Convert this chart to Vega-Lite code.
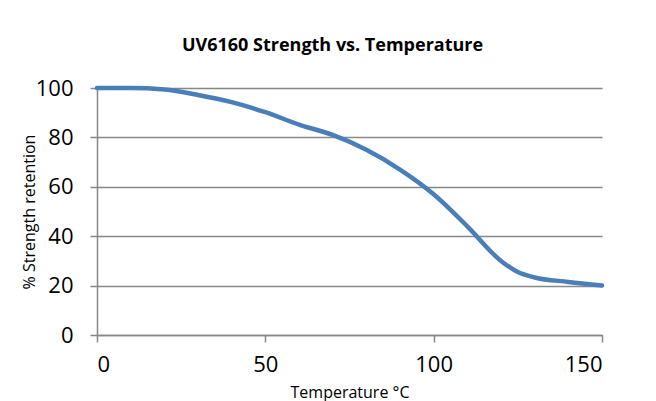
{
  "$schema": "https://vega.github.io/schema/vega-lite/v6.json",
  "autosize": "none",
  "width": 505,
  "height": 247,
  "padding": {"left": 97, "top": 88, "right": 54, "bottom": 66},
  "background": "white",
  "title": {
    "text": "UV6160 Strength vs. Temperature",
    "font": "Open Sans",
    "fontSize": 18,
    "fontWeight": "bold",
    "color": "#000000",
    "anchor": "middle",
    "dx": -17,
    "offset": 22
  },
  "data": {
    "values": [
      {"t": 0, "s": 100},
      {"t": 10, "s": 100},
      {"t": 20, "s": 99.4},
      {"t": 30, "s": 97.2},
      {"t": 40, "s": 94.3},
      {"t": 50, "s": 90.2},
      {"t": 60, "s": 85.2},
      {"t": 70, "s": 81},
      {"t": 80, "s": 75},
      {"t": 90, "s": 67},
      {"t": 100, "s": 57},
      {"t": 110, "s": 44},
      {"t": 120, "s": 30},
      {"t": 125, "s": 25.5},
      {"t": 130, "s": 23.3},
      {"t": 140, "s": 21.5},
      {"t": 150, "s": 20}
    ]
  },
  "mark": {"type": "line", "color": "#4a7ebb", "strokeWidth": 4.5, "interpolate": "monotone", "strokeCap": "round"},
  "encoding": {
    "x": {
      "field": "t",
      "type": "quantitative",
      "scale": {"domain": [0, 150], "nice": false, "zero": true},
      "axis": {
        "title": "Temperature °C",
        "values": [0, 50, 100, 150],
        "grid": false,
        "tickSize": 7,
        "labelPadding": 12,
        "labelFontSize": 22,
        "titleFontSize": 16,
        "titlePadding": 9,
        "titleFontWeight": "normal"
      }
    },
    "y": {
      "field": "s",
      "type": "quantitative",
      "scale": {"domain": [0, 100], "nice": false},
      "axis": {
        "title": "% Strength retention",
        "values": [0, 20, 40, 60, 80, 100],
        "grid": true,
        "tickSize": 7,
        "labelPadding": 17,
        "labelFontSize": 22,
        "titleFontSize": 16,
        "titlePadding": -2,
        "titleFontWeight": "normal"
      }
    }
  },
  "config": {
    "font": "Open Sans",
    "view": {"stroke": null},
    "axis": {
      "domainColor": "#878787",
      "domainWidth": 1.5,
      "tickColor": "#878787",
      "tickWidth": 1.5,
      "gridColor": "#878787",
      "gridWidth": 1.5,
      "gridOpacity": 1,
      "labelColor": "#000000",
      "titleColor": "#000000",
      "labelFont": "Open Sans",
      "titleFont": "Open Sans"
    }
  }
}
